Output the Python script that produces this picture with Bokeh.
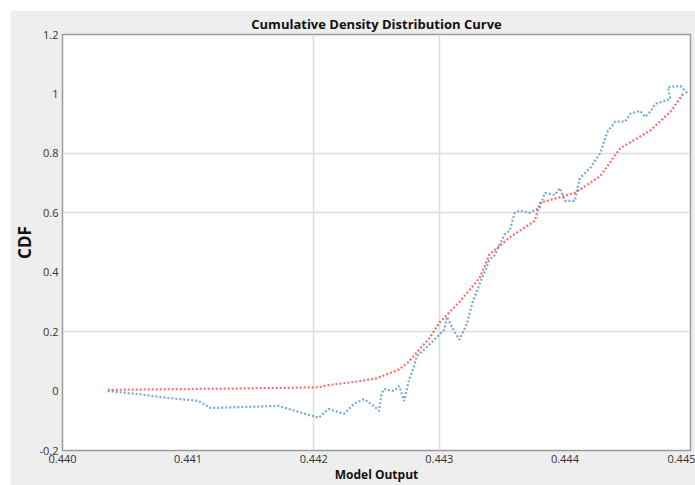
from bokeh.plotting import figure
from bokeh.embed import file_html
from bokeh.resources import INLINE
from bokeh.models import FixedTicker, Spacer, Range1d
from bokeh.layouts import column, row

# Smooth (fitted) CDF - red
red_x = [0.44036, 0.44080, 0.44130, 0.44180, 0.44204, 0.44212, 0.44236, 0.44250,
         0.44268, 0.44276, 0.44284, 0.44292, 0.44300, 0.44316, 0.44332, 0.44340,
         0.44356, 0.44376, 0.44380, 0.44408, 0.44428, 0.44444, 0.44468, 0.44484, 0.44494]
red_y = [0.004, 0.006, 0.008, 0.011, 0.013, 0.020, 0.033, 0.043,
         0.073, 0.100, 0.140, 0.177, 0.230, 0.300, 0.380, 0.460,
         0.517, 0.573, 0.633, 0.667, 0.723, 0.817, 0.877, 0.940, 1.000]

# Empirical CDF - blue
blue_x = [0.44036, 0.44060, 0.44084, 0.44108, 0.44118, 0.44172, 0.44204, 0.44212,
          0.44224, 0.44232, 0.44240, 0.44248, 0.44252, 0.44254, 0.44256, 0.44264,
          0.44268, 0.44272, 0.44276, 0.44280, 0.44282, 0.44288, 0.44296, 0.44304,
          0.44306, 0.44312, 0.44316, 0.44322, 0.44326, 0.44332, 0.44336, 0.44340,
          0.44344, 0.44348, 0.44352, 0.44356, 0.44360, 0.44364, 0.44372, 0.44380,
          0.44384, 0.44392, 0.44396, 0.44400, 0.44408, 0.44410, 0.44412, 0.44420,
          0.44428, 0.44434, 0.44440, 0.44448, 0.44452, 0.44460, 0.44464, 0.44468,
          0.44472, 0.44480, 0.44484, 0.44482, 0.44492, 0.44498]
blue_y = [0.000, -0.010, -0.023, -0.033, -0.057, -0.050, -0.090, -0.060,
          -0.077, -0.043, -0.027, -0.050, -0.067, -0.010, 0.007, 0.000,
          0.017, -0.033, 0.040, 0.083, 0.117, 0.140, 0.173, 0.207,
          0.250, 0.200, 0.173, 0.227, 0.293, 0.360, 0.400, 0.443,
          0.457, 0.493, 0.527, 0.540, 0.600, 0.607, 0.600, 0.617,
          0.667, 0.660, 0.683, 0.640, 0.640, 0.683, 0.717, 0.750,
          0.800, 0.873, 0.907, 0.907, 0.933, 0.943, 0.923, 0.940,
          0.967, 0.977, 0.983, 1.023, 1.027, 1.000]

x_ticks = [0.440, 0.441, 0.442, 0.443, 0.444, 0.445]
x_labels = ["0.440", "0.441", "0.442", "0.443", "0.444", "0.445"]
y_ticks = [-0.2, 0, 0.2, 0.4, 0.6, 0.8, 1.0, 1.2]
y_labels = ["-0.2", "0", "0.2", "0.4", "0.6", "0.8", "1", "1.2"]

FONT = "Open Sans"

p = figure(width=685, height=475, output_backend="svg", toolbar_location=None,
           x_range=Range1d(0.440, 0.445), y_range=Range1d(-0.2, 1.2),
           title="Cumulative Density Distribution Curve",
           min_border_left=0, min_border_right=5, min_border_top=0, min_border_bottom=0)

p.border_fill_color = "#eeeeee"
p.background_fill_color = "white"
p.outline_line_color = "#9a9a9a"
p.outline_line_width = 1.5

p.title.align = "center"
p.title.text_font = FONT
p.title.text_font_size = "13px"
p.title.text_font_style = "bold"
p.title.text_color = "#111111"
p.title.offset = 0
p.title.standoff = 4

p.line(blue_x, blue_y, line_color="#3a86c8", line_width=2.2, line_dash="2 2", line_alpha=0.7)
p.line(red_x, red_y, line_color="#ff3b3b", line_width=2.2, line_dash="2 2", line_alpha=0.75)

p.xaxis.ticker = FixedTicker(ticks=x_ticks)
p.xaxis.major_label_overrides = {t: l for t, l in zip(x_ticks, x_labels)}
p.yaxis.ticker = FixedTicker(ticks=y_ticks)
p.yaxis.major_label_overrides = {t: l for t, l in zip(y_ticks, y_labels)}

for ax in (p.xaxis[0], p.yaxis[0]):
    ax.axis_line_color = None
    ax.major_tick_line_color = None
    ax.minor_tick_line_color = None
    ax.major_tick_out = 0
    ax.major_tick_in = 0
    ax.major_label_text_font = FONT
    ax.major_label_text_font_size = "11px"
    ax.major_label_text_color = "#333333"
    ax.axis_label_text_font = FONT
    ax.axis_label_text_font_style = "bold"
    ax.axis_label_text_color = "#111111"

p.xaxis.axis_label = "Model Output"
p.xaxis.axis_label_text_font_size = "12px"
p.xaxis.major_label_standoff = 4
p.xaxis.axis_label_standoff = 0
p.yaxis.axis_label = "CDF"
p.yaxis.axis_label_text_font_size = "17px"
p.yaxis.major_label_standoff = 4
p.yaxis.axis_label_standoff = 0

p.xgrid.ticker = FixedTicker(ticks=[0.442, 0.443])
p.ygrid.ticker = FixedTicker(ticks=[0.2, 0.6, 0.8])
p.xgrid.grid_line_color = "#dddddd"
p.ygrid.grid_line_color = "#dddddd"
p.xgrid.grid_line_width = 1.5
p.ygrid.grid_line_width = 1.5

layout = column(Spacer(height=10), row(Spacer(width=10), p))

open("out.html", "w").write(file_html(layout, INLINE))
